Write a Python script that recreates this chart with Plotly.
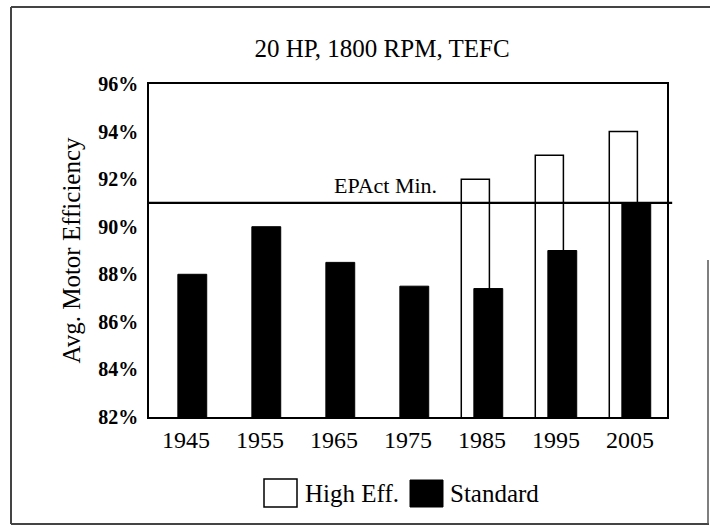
import plotly.graph_objects as go

years = ["1945", "1955", "1965", "1975", "1985", "1995", "2005"]
standard = [88.0, 90.0, 88.5, 87.5, 87.4, 89.0, 91.0]
high_eff = [None, None, None, None, 92.0, 93.0, 94.0]
epact_min = 91.0
y_ticks = [82, 84, 86, 88, 90, 92, 94, 96]
y_tick_labels = [f"{v}%" for v in y_ticks]
title_text = "20 HP, 1800 RPM, TEFC"
y_title = "Avg. Motor Efficiency"
legend_names = ["High Eff.", "Standard"]

W, H = 710, 529
L, R, T, B = 149, 667, 84, 417
FONT = "Liberation Serif, Times New Roman, serif"


def px(x):
    return (x - L) / (R - L)


def py(y):
    return (B - y) / (B - T)


fig = go.Figure()
fig.add_trace(go.Bar(
    x=years, y=high_eff, name=legend_names[0],
    marker=dict(color="white", line=dict(color="black", width=1.5)),
    width=0.38, offset=-0.28, showlegend=False,
))
fig.add_trace(go.Bar(
    x=years, y=standard, name=legend_names[1],
    marker=dict(color="black", line=dict(color="black", width=1)),
    width=0.39, offset=-0.11, showlegend=False,
))

shapes = [
    # EPAct minimum line
    dict(type="line", xref="x domain", yref="y", x0=0, x1=1.01, y0=epact_min, y1=epact_min,
         line=dict(color="black", width=2.2)),
    # outer border (scanned frame)
    dict(type="line", xref="paper", yref="paper", x0=px(11), x1=px(710), y0=py(7), y1=py(7),
         line=dict(color="#444", width=2)),
    dict(type="line", xref="paper", yref="paper", x0=px(11), x1=px(11), y0=py(7), y1=py(524),
         line=dict(color="#444", width=2)),
    dict(type="line", xref="paper", yref="paper", x0=px(11), x1=px(709), y0=py(524), y1=py(524),
         line=dict(color="#444", width=2)),
    dict(type="line", xref="paper", yref="paper", x0=px(708), x1=px(708), y0=py(260), y1=py(524),
         line=dict(color="#555", width=1.5)),
    # legend swatches
    dict(type="rect", xref="paper", yref="paper", x0=px(264), x1=px(297), y0=py(507), y1=py(479),
         fillcolor="white", line=dict(color="black", width=1.5)),
    dict(type="rect", xref="paper", yref="paper", x0=px(410), x1=px(443), y0=py(507), y1=py(480),
         fillcolor="black", line=dict(color="black", width=1)),
]

annotations = [
    dict(text="EPAct Min.", xref="paper", yref="y", x=px(385), y=epact_min,
         xanchor="center", yanchor="bottom", yshift=3, showarrow=False,
         font=dict(family=FONT, size=22, color="black")),
    dict(text=legend_names[0], xref="paper", yref="paper", x=px(303), y=py(493),
         xanchor="left", yanchor="middle", showarrow=False,
         font=dict(family=FONT, size=25, color="black")),
    dict(text=legend_names[1], xref="paper", yref="paper", x=px(448), y=py(493),
         xanchor="left", yanchor="middle", showarrow=False,
         font=dict(family=FONT, size=25, color="black")),
]

fig.update_layout(
    width=W, height=H,
    margin=dict(l=L, r=W - R, t=T, b=H - B),
    paper_bgcolor="white", plot_bgcolor="white",
    barmode="overlay",
    title=dict(text=title_text, xref="container", yref="container",
               x=382 / W, y=1 - 48 / H, xanchor="center", yanchor="middle",
               font=dict(family=FONT, size=25, color="black")),
    shapes=shapes, annotations=annotations,
    font=dict(family=FONT, color="black"),
)
fig.update_xaxes(
    type="category", showgrid=False, showline=True, linecolor="black", linewidth=2,
    mirror=True, ticks="", tickfont=dict(family=FONT, size=24, color="black"),
    ticklabelstandoff=0,
)
fig.update_yaxes(
    range=[82, 96], tickvals=y_ticks, ticktext=y_tick_labels, showgrid=False,
    showline=True, linecolor="black", linewidth=1.5, mirror=True, ticks="",
    tickfont=dict(family=FONT, size=20, color="black", weight="bold"),
    ticklabelstandoff=5, zeroline=False,
    title=dict(text=y_title, font=dict(family=FONT, size=25, color="black"), standoff=11),
)

fig.write_html("out.html")
